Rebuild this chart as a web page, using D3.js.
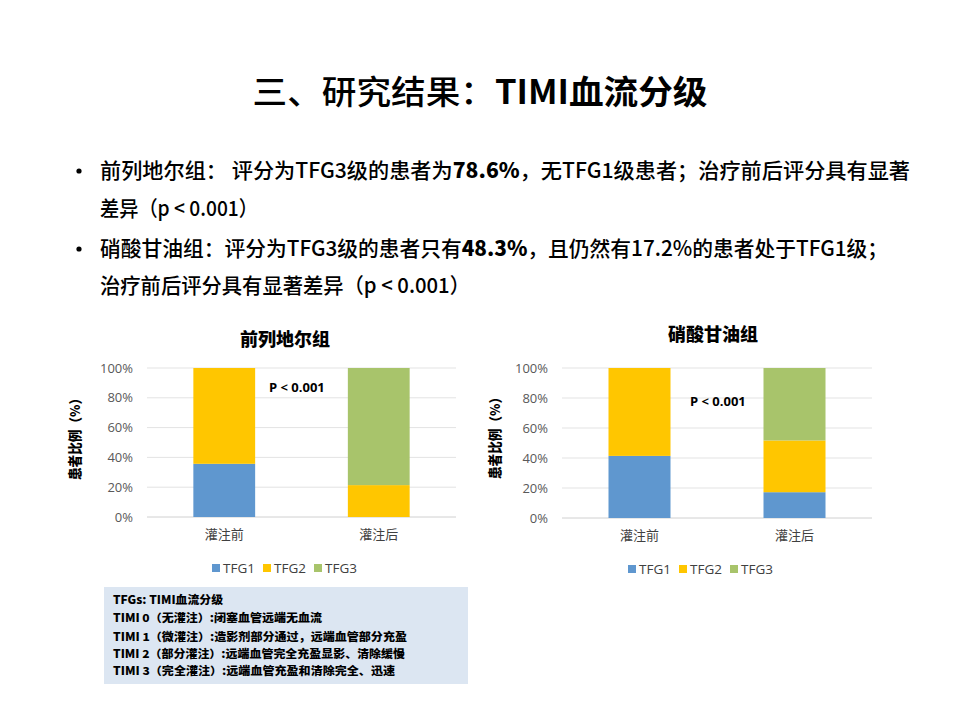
<!DOCTYPE html>
<html><head><meta charset="utf-8">
<script src="https://cdn.jsdelivr.net/npm/d3@7"></script>
<style>body{margin:0;background:#fff}svg{display:block}</style>
</head><body>
<svg id="c" width="960" height="720"></svg>
<script>
const categories = ["灌注前", "灌注后"];
const seriesNames = ["TFG1", "TFG2", "TFG3"];
const yTicks = [0, 20, 40, 60, 80, 100];
// 前列地尔组
const alproTFG1 = [35.7, 0];
const alproTFG2 = [64.3, 21.4];
const alproTFG3 = [0, 78.6];
// 硝酸甘油组
const nitroTFG1 = [41.4, 17.2];
const nitroTFG2 = [58.6, 34.5];
const nitroTFG3 = [0, 48.3];
const colors = ["#5f97cf", "#ffc600", "#a8c46b"];

const bullets = [
  [{t:"前列地尔组：  评分为TFG3级的患者为"},{t:"78.6%",b:1},{t:"，无TFG1级患者；治疗前后评分具有显著"}],
  [{t:"差异（p < 0.001）"}],
  [{t:"硝酸甘油组：评分为TFG3级的患者只有"},{t:"48.3%",b:1},{t:"，且仍然有17.2%的患者处于TFG1级；"}],
  [{t:"治疗前后评分具有显著差异（p < 0.001）"}]
];
const noteLines = [
  "TFGs: TIMI血流分级",
  "TIMI 0（无灌注）:闭塞血管远端无血流",
  "TIMI 1（微灌注）:造影剂部分通过，远端血管部分充盈",
  "TIMI 2（部分灌注）:远端血管完全充盈显影、清除缓慢",
  "TIMI 3（完全灌注）:远端血管充盈和清除完全、迅速"
];

const svg = d3.select("#c");
const CJK = "'Noto Sans CJK SC','Noto Sans',sans-serif";
const LAT = "'Open Sans','Noto Sans',sans-serif";

// Title
const title = svg.append("text").attr("x", 480).attr("y", 104).attr("text-anchor", "middle")
  .attr("font-family", CJK).attr("font-size", 33).attr("fill", "#000")
  .attr("textLength", 455).attr("lengthAdjust", "spacingAndGlyphs");
title.append("tspan").attr("font-weight", 500).text("三、研究结果：");
title.append("tspan").attr("font-weight", 700).text("TIMI血流分级");

// Bullets
const bulletY = [178, 216, 256, 293];
const bulletW = [810, 158, 788, 370];
bullets.forEach((parts, i) => {
  if (i === 0 || i === 2) {
    svg.append("circle").attr("cx", 79).attr("cy", bulletY[i] - 7).attr("r", 2.6).attr("fill", "#000");
  }
  const t = svg.append("text").attr("x", 100).attr("y", bulletY[i])
    .attr("font-family", CJK).attr("font-size", 21).attr("font-weight", 500).attr("fill", "#000")
    .attr("textLength", bulletW[i]).attr("lengthAdjust", "spacingAndGlyphs");
  parts.forEach(p => t.append("tspan").attr("font-weight", p.b ? 800 : 500).text(p.t));
});

function drawChart(cfg) {
  const g = svg.append("g");
  const x = d3.scaleBand().domain(categories).range([cfg.x0, cfg.x1]).paddingInner(0).paddingOuter(0);
  const y = d3.scaleLinear().domain([0, 100]).range([cfg.yb, cfg.yt]);
  const rows = categories.map((c, i) => ({cat: c, TFG1: cfg.s1[i], TFG2: cfg.s2[i], TFG3: cfg.s3[i]}));
  const stacked = d3.stack().keys(seriesNames)(rows);
  // grid
  g.selectAll(".grid").data(yTicks).join("line")
    .attr("x1", cfg.x0).attr("x2", cfg.x1).attr("y1", d => y(d)).attr("y2", d => y(d))
    .attr("stroke", d => d === 0 ? "#d0d0d0" : "#e3e3e3").attr("stroke-width", 1);
  // bars
  const bw = x.step() * 0.4;
  stacked.forEach((layer, si) => {
    g.selectAll(null).data(layer).join("rect")
      .attr("x", d => x(d.data.cat) + x.bandwidth() / 2 - bw / 2)
      .attr("width", bw)
      .attr("y", d => y(d[1]))
      .attr("height", d => y(d[0]) - y(d[1]))
      .attr("fill", colors[si]);
  });
  // y axis
  const ya = g.append("g").attr("transform", `translate(${cfg.x0},0)`)
    .call(d3.axisLeft(y).tickValues(yTicks).tickFormat(d => d + "%").tickSize(0).tickPadding(14));
  ya.select(".domain").remove();
  ya.selectAll("text").attr("font-family", LAT).attr("font-size", 13).attr("fill", "#595959");
  // x axis labels
  const xa = g.append("g").attr("transform", `translate(0,${cfg.yb})`)
    .call(d3.axisBottom(x).tickSize(0).tickPadding(13));
  xa.select(".domain").remove();
  xa.selectAll("text").attr("font-family", CJK).attr("font-size", 13).attr("fill", "#404040");
  // title
  g.append("text").attr("x", cfg.tx).attr("y", cfg.ty).attr("text-anchor", "middle")
    .attr("font-family", CJK).attr("font-size", 18).attr("font-weight", 900).attr("fill", "#000").text(cfg.title);
  // y label
  g.append("text").attr("transform", `translate(${cfg.lx},${cfg.ly}) rotate(-90)`).attr("text-anchor", "middle")
    .attr("font-family", CJK).attr("font-size", 13.5).attr("font-weight", 900).attr("fill", "#000")
    .attr("textLength", 88).attr("lengthAdjust", "spacingAndGlyphs").text("患者比例（%）");
  // p value
  g.append("text").attr("x", cfg.px).attr("y", cfg.py)
    .attr("font-family", LAT).attr("font-size", 13).attr("font-weight", 700)
    .attr("fill", "#000").text("P < 0.001");
  // legend
  const lg = g.selectAll(".lg").data(seriesNames).join("g")
    .attr("transform", (d, i) => `translate(${cfg.legX + i * 51},${cfg.legY})`);
  lg.append("rect").attr("x", 0).attr("y", -4).attr("width", 8).attr("height", 8).attr("fill", (d, i) => colors[i]);
  lg.append("text").attr("x", 11).attr("y", 5)
    .attr("font-family", LAT).attr("font-size", 13.5).attr("fill", "#404040").text(d => d);
}

drawChart({x0: 147, x1: 456, yb: 517, yt: 368, s1: alproTFG1, s2: alproTFG2, s3: alproTFG3,
  title: "前列地尔组", tx: 285, ty: 346, lx: 80, ly: 436, px: 269, py: 392, legX: 212, legY: 568});
drawChart({x0: 562, x1: 872, yb: 518, yt: 368, s1: nitroTFG1, s2: nitroTFG2, s3: nitroTFG3,
  title: "硝酸甘油组", tx: 713, ty: 341, lx: 500, ly: 435, px: 690, py: 406, legX: 628, legY: 569});

// note box
svg.append("rect").attr("x", 104).attr("y", 587).attr("width", 364).attr("height", 97).attr("fill", "#dce6f2");
const noteY = [604, 622, 641, 658, 675];
const noteW = [110, 209, 294, 292, 282];
svg.selectAll(".note").data(noteLines).join("text")
  .attr("x", 113).attr("y", (d, i) => noteY[i])
  .attr("font-family", CJK).attr("font-size", 11).attr("font-weight", 900).attr("fill", "#000")
  .attr("textLength", (d, i) => noteW[i]).attr("lengthAdjust", "spacingAndGlyphs")
  .text(d => d);
</script>
</body></html>
